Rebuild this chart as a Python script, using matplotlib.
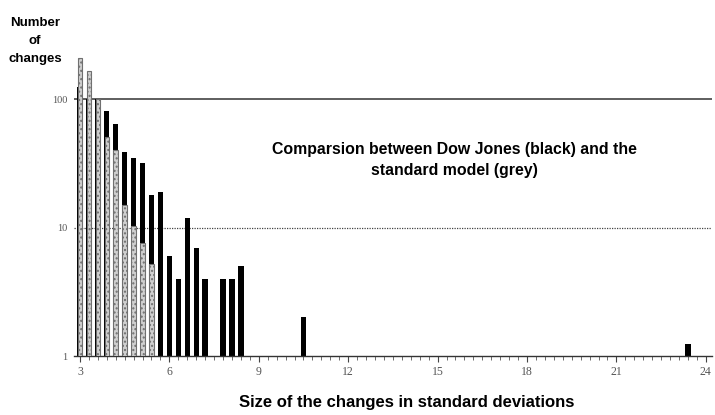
import numpy as np
import matplotlib
matplotlib.use("Agg")
import matplotlib.pyplot as plt
from matplotlib.ticker import FixedLocator, NullLocator

# Data: size of change (in standard deviations) and number of changes
dow_x = [3.0, 3.3, 3.6, 3.9, 4.2, 4.5, 4.8, 5.1, 5.4, 5.7, 6.0, 6.3, 6.6, 6.9, 7.2,
         7.8, 8.1, 8.4, 10.5, 23.4]
dow_counts = [125, 100, 100, 81, 64, 39, 35, 32, 18, 19, 6, 4, 12, 7, 4,
              4, 4, 5, 2, 1.25]

model_x = [3.0, 3.3, 3.6, 3.9, 4.2, 4.5, 4.8, 5.1, 5.4]
model_counts = [210, 165, 100, 51, 40, 15, 10.3, 7.6, 5.2]

xticks = [3, 6, 9, 12, 15, 18, 21, 24]
yticks = [1, 10, 100]
ytick_labels = ["1", "10", "100"]

fig = plt.figure(figsize=(7.15, 4.15), dpi=100)
ax = fig.add_axes([0.1035, 0.142, 0.892, 0.766])

ax.set_yscale("log")
ax.set_ylim(1, 300)
ax.set_xlim(2.8, 24.2)

# gridlines
ax.axhline(100, color="#333333", lw=1.1, zorder=1)
ax.axhline(10, color="#444444", lw=0.9, ls=(0, (1, 1)), zorder=1)

bw = 0.18
ax.bar(dow_x, [c - 1 for c in dow_counts], bottom=1, width=bw, color="black",
       zorder=2, align="center")
ax.bar(model_x, [c - 1 for c in model_counts], bottom=1, width=bw * 0.85,
       color="#d0d0d0", edgecolor="#707070", linewidth=0.8, zorder=3,
       align="center", hatch="....")

for s in ["top", "right", "left"]:
    ax.spines[s].set_visible(False)
ax.spines["bottom"].set_color("#333333")
ax.spines["bottom"].set_linewidth(1.0)

ax.xaxis.set_major_locator(FixedLocator(xticks))
ax.set_xticklabels([str(t) for t in xticks], family="Liberation Serif",
                   fontsize=8.5, color="#555555")
minor = [3 + 0.3 * i for i in range(71)]
ax.xaxis.set_minor_locator(FixedLocator(minor))
ax.tick_params(axis="x", which="major", length=4, width=0.8, color="#444444", pad=3)
ax.tick_params(axis="x", which="minor", length=3, width=0.6, color="#555555")

ax.yaxis.set_major_locator(FixedLocator(yticks))
ax.yaxis.set_minor_locator(NullLocator())
ax.set_yticklabels(ytick_labels, family="Liberation Serif", fontsize=7.5,
                   color="#555555")
ax.tick_params(axis="y", which="major", length=0, pad=5)

fig.text(407 / 715, 1 - 402 / 415, "Size of the changes in standard deviations",
         ha="center", va="center",
         family="Liberation Sans", fontweight="bold", fontsize=12)

fig.text(35 / 715, 1 - 41 / 415, "Number\nof\nchanges", ha="center", va="center",
         family="Liberation Sans", fontweight="bold", fontsize=9.5,
         linespacing=1.62)

ax.text(0.596, 0.616, "Comparsion between Dow Jones (black) and the\nstandard model (grey)",
        transform=ax.transAxes, ha="center", va="center",
        family="Liberation Sans", fontweight="bold", fontsize=11.4,
        linespacing=1.5)

fig.savefig("out.png", dpi=100, facecolor="white")
